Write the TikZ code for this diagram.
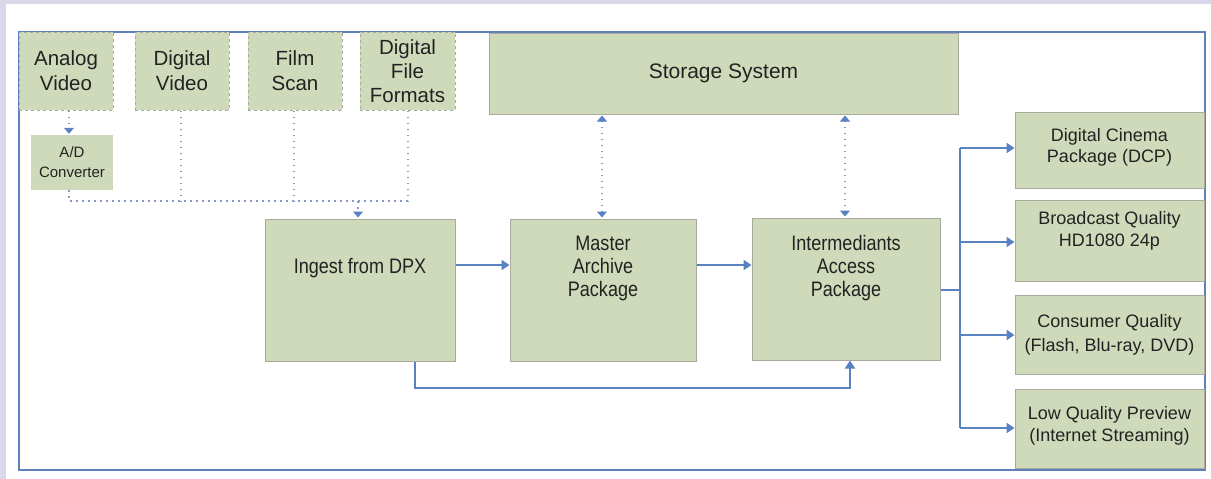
\documentclass[tikz,border=0pt]{standalone}
\usepackage{fontspec}
\setmainfont{Liberation Sans}
\newfontfamily\narrowfont[FakeStretch=0.86]{Liberation Sans}
\usetikzlibrary{arrows.meta}
\definecolor{lav}{HTML}{D8D8EA}
\definecolor{sage}{HTML}{CFDABA}
\definecolor{boxline}{HTML}{A8AA9C}
\definecolor{flow}{HTML}{5A82C2}
\definecolor{frame}{HTML}{5F80B8}
\definecolor{dotc}{HTML}{8898C4}
\definecolor{txt}{HTML}{222222}
\tikzset{
  srcbox/.style={draw=boxline, dashed, line width=1pt, fill=sage, inner sep=0pt, text=txt, font=\fontsize{20.5}{25}\selectfont, align=center},
  mainbox/.style={draw=boxline, line width=1pt, fill=sage, inner sep=0pt},
  lbl/.style={text=txt, align=center, inner sep=0pt},
  tip/.style={-{Triangle[width=10pt,length=8pt]}},
  smalltip/.style={-{Triangle[width=10pt,length=6pt]}},
  dots/.style={draw=dotc, line width=1.5pt, dash pattern=on 1.5pt off 4.5pt},
  solid flow/.style={draw=flow, line width=2.2pt},
}
\begin{document}
\begin{tikzpicture}[x=1pt,y=-1pt]
\useasboundingbox (0,0) rectangle (1211,479);
\fill[lav] (0,0) rectangle (1211,479);
\fill[white] (6,4) rectangle (1211,479);
\draw[frame, line width=2.8pt] (19,32) rectangle (1205,470);

% source boxes
\node[srcbox, minimum width=94, minimum height=78] (av) at (66,71) {Analog\\Video};
\node[srcbox, minimum width=94, minimum height=78] (dv) at (182,71) {Digital\\Video};
\node[srcbox, minimum width=94, minimum height=78] (fs) at (295,71) {Film\\Scan};
\node[srcbox, minimum width=95, minimum height=78, font=\fontsize{20.5}{24}\selectfont] (dff) at (407.5,71) {Digital\\File\\Formats};
\node[fill=sage, inner sep=0pt, minimum width=82, minimum height=55, text=txt, align=center, font=\fontsize{15}{20}\selectfont] (ad) at (72,162.5) {A/D\\Converter};

% storage
\node[mainbox, minimum width=469, minimum height=81, text=txt, font=\fontsize{21}{24}\selectfont] (ss) at (723.5,73.5) {Storage System};

% main chain
\node[mainbox, minimum width=190, minimum height=142] (ing) at (360,290) {};
\node[lbl, font=\narrowfont\fontsize{21}{23}\selectfont] (ingl) at (360,268) {Ingest from DPX};
\node[mainbox, minimum width=186, minimum height=142] (mas) at (603,290) {};
\node[lbl, font=\narrowfont\fontsize{21}{23}\selectfont] (masl) at (603,268) {Master\\Archive\\Package};
\node[mainbox, minimum width=188, minimum height=142] (iap) at (846,289) {};
\node[lbl, font=\narrowfont\fontsize{21}{23}\selectfont] (iapl) at (846,268) {Intermediants\\Access\\Package};

% outputs
\node[mainbox, minimum width=189, minimum height=76] (dcp) at (1109.5,150) {};
\node[lbl, font=\fontsize{18}{21}\selectfont] (dcpl) at (1109.5,147) {Digital Cinema\\Package (DCP)};
\node[mainbox, minimum width=189, minimum height=81] (bq) at (1109.5,240.5) {};
\node[lbl, font=\fontsize{18}{22}\selectfont] (bql) at (1109.5,231) {Broadcast Quality\\HD1080 24p};
\node[mainbox, minimum width=189, minimum height=79] (cq) at (1109.5,335) {};
\node[lbl, font=\fontsize{18}{24}\selectfont] (cql) at (1109.5,335) {Consumer Quality\\(Flash, Blu-ray, DVD)};
\node[mainbox, minimum width=189, minimum height=79] (lq) at (1109.5,428.5) {};
\node[lbl, font=\fontsize{18}{22}\selectfont] (lql) at (1109.5,426) {Low Quality Preview\\(Internet Streaming)};

% dotted inputs
\coordinate (j0) at (69,201);
\coordinate (jin) at (358,201);
\draw[dots] (av.south -| j0) -- ([yshift=6]ad.north -| j0);
\draw[flow, smalltip, line width=1pt] ([yshift=7]ad.north -| j0) -- ([yshift=1]ad.north -| j0);
\draw[dots] (ad.south -| j0) -- (j0) -- (408,201);
\draw[dots] (dv.south -| 181,0) -- (181,201);
\draw[dots] (fs.south -| 294,0) -- (294,201);
\draw[dots] (dff.south -| 408,0) -- (408,201);
\draw[dots] (jin) -- ([yshift=6]ing.north -| jin);
\draw[flow, smalltip, line width=1pt] ([yshift=7]ing.north -| jin) -- ([yshift=1]ing.north -| jin);

% storage links
\coordinate (s1) at (602,0);
\coordinate (s2) at (845,0);
\draw[dots] ([yshift=-6]ss.south -| s1) -- ([yshift=6]mas.north -| s1);
\draw[flow, smalltip, line width=1pt] ([yshift=-7]ss.south -| s1) -- ([yshift=-1]ss.south -| s1);
\draw[flow, smalltip, line width=1pt] ([yshift=7]mas.north -| s1) -- ([yshift=1]mas.north -| s1);
\draw[dots] ([yshift=-6]ss.south -| s2) -- ([yshift=6]iap.north -| s2);
\draw[flow, smalltip, line width=1pt] ([yshift=-7]ss.south -| s2) -- ([yshift=-1]ss.south -| s2);
\draw[flow, smalltip, line width=1pt] ([yshift=7]iap.north -| s2) -- ([yshift=1]iap.north -| s2);

% solid flows
\coordinate (r1) at (0,265);
\draw[solid flow, tip] (ing.east |- r1) -- (mas.west |- r1);
\draw[solid flow, tip] (mas.east |- r1) -- (iap.west |- r1);
\coordinate (b1) at (415,388);
\coordinate (b2) at (850,388);
\draw[solid flow, tip] (ing.south -| b1) -- (b1) -- (b2) -- (iap.south -| b2);

\coordinate (fan) at (960,290);
\draw[solid flow] (iap.east |- fan) -- (fan);
\draw[solid flow] (960,148) -- (960,428);
\draw[solid flow, tip] (960,148) -- (dcp.west |- 0,148);
\draw[solid flow, tip] (960,242) -- (bq.west |- 0,242);
\draw[solid flow, tip] (960,335) -- (cq.west |- 0,335);
\draw[solid flow, tip] (960,428) -- (lq.west |- 0,428);
\end{tikzpicture}
\end{document}
